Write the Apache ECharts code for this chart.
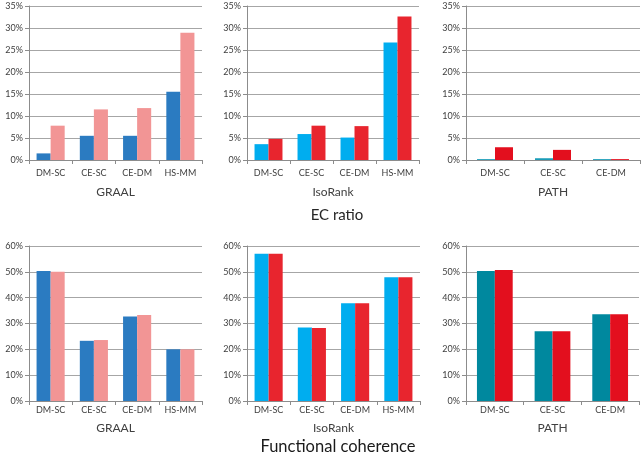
<!DOCTYPE html>
<html><head><meta charset="utf-8">
<script src="https://cdn.jsdelivr.net/npm/echarts@6/dist/echarts.min.js"></script>
<style>html,body{margin:0;padding:0;background:#fff}#c{width:643px;height:452px}</style>
</head><body><div id="c"></div>
<script>
const cats4 = ['DM-SC','CE-SC','CE-DM','HS-MM'];
const cats3 = ['DM-SC','CE-SC','CE-DM'];
// EC ratio (%)
const ecGraalA = [1.5, 5.5, 5.5, 15.5];
const ecGraalB = [7.8, 11.5, 11.8, 28.9];
const ecIsoA = [3.6, 5.9, 5.1, 26.7];
const ecIsoB = [4.8, 7.8, 7.7, 32.6];
const ecPathA = [0.2, 0.4, 0.2];
const ecPathB = [2.9, 2.3, 0.2];
// Functional coherence (%)
const fcGraalA = [50.3, 23.3, 32.7, 20.0];
const fcGraalB = [50.0, 23.6, 33.3, 20.0];
const fcIsoA = [57.0, 28.5, 37.8, 47.9];
const fcIsoB = [57.0, 28.3, 37.8, 47.9];
const fcPathA = [50.3, 27.0, 33.6];
const fcPathB = [50.7, 27.0, 33.6];

const FONT = 'Lato, "Open Sans", sans-serif';
const grids = [
  {left:29, top:6, width:173, height:154},
  {left:247, top:6, width:172, height:154},
  {left:466, top:6, width:174, height:154},
  {left:29, top:246, width:173, height:155},
  {left:247, top:246, width:173, height:155},
  {left:466, top:246, width:173, height:155}
];
const panels = [
  {cats:cats4, a:ecGraalA, b:ecGraalB, ca:'#2b7bc1', cb:'#f29595', name:'GRAAL', max:35, iv:5, top:true},
  {cats:cats4, a:ecIsoA, b:ecIsoB, ca:'#00adef', cb:'#e8252e', name:'IsoRank', max:35, iv:5, top:true},
  {cats:cats3, a:ecPathA, b:ecPathB, ca:'#1a9cb8', cb:'#e30f1e', name:'PATH', max:35, iv:5, top:true},
  {cats:cats4, a:fcGraalA, b:fcGraalB, ca:'#2b7bc1', cb:'#f29595', name:'GRAAL', max:60, iv:10, top:false},
  {cats:cats4, a:fcIsoA, b:fcIsoB, ca:'#00adef', cb:'#e8252e', name:'IsoRank', max:60, iv:10, top:false},
  {cats:cats3, a:fcPathA, b:fcPathB, ca:'#00889e', cb:'#e30f1e', name:'PATH', max:60, iv:10, top:false}
];
const xAxis = [], yAxis = [], series = [];
panels.forEach((p, i) => {
  xAxis.push({type:'category', gridIndex:i, data:p.cats,
    name:p.name, nameLocation:'middle', nameGap: p.top ? 26 : 21,
    nameTextStyle:{fontFamily:FONT, fontSize:12, color:'#404040'},
    axisLine:{lineStyle:{color:'#8c8c8c'}},
    axisTick:{show:true, lineStyle:{color:'#8c8c8c'}, length:4},
    axisLabel:{fontFamily:FONT, fontSize:9, color:'#404040', margin: p.top ? 9 : 5}});
  yAxis.push({type:'value', gridIndex:i, min:0, max:p.max, interval:p.iv,
    axisLine:{show:true, lineStyle:{color:'#8c8c8c'}},
    axisTick:{show:true, length:4, lineStyle:{color:'#8c8c8c'}},
    splitLine:{lineStyle:{color:'#a6a6a6'}},
    axisLabel:{fontFamily:FONT, fontSize:9, color:'#404040', margin:6, formatter:'{value}%'}});
  const gap = p.cats.length === 3 ? '38%' : '35%';
  series.push({type:'bar', xAxisIndex:i, yAxisIndex:i, data:p.a, itemStyle:{color:p.ca}, barGap:'0%', barCategoryGap:gap});
  series.push({type:'bar', xAxisIndex:i, yAxisIndex:i, data:p.b, itemStyle:{color:p.cb}, barGap:'0%', barCategoryGap:gap});
});
const chart = echarts.init(document.getElementById('c'), null, {renderer:'canvas'});
chart.setOption({
  animation:false,
  backgroundColor:'#fff',
  title:[
    {text:'EC ratio', left:332, top:203, textAlign:'center', textStyle:{fontFamily:FONT, fontSize:15, fontWeight:'normal', color:'#262626'}},
    {text:'Functional coherence', left:333, top:433, textAlign:'center', textStyle:{fontFamily:FONT, fontSize:16.5, fontWeight:'normal', color:'#1a1a1a'}}
  ],
  grid:grids, xAxis:xAxis, yAxis:yAxis, series:series
});
</script></body></html>
